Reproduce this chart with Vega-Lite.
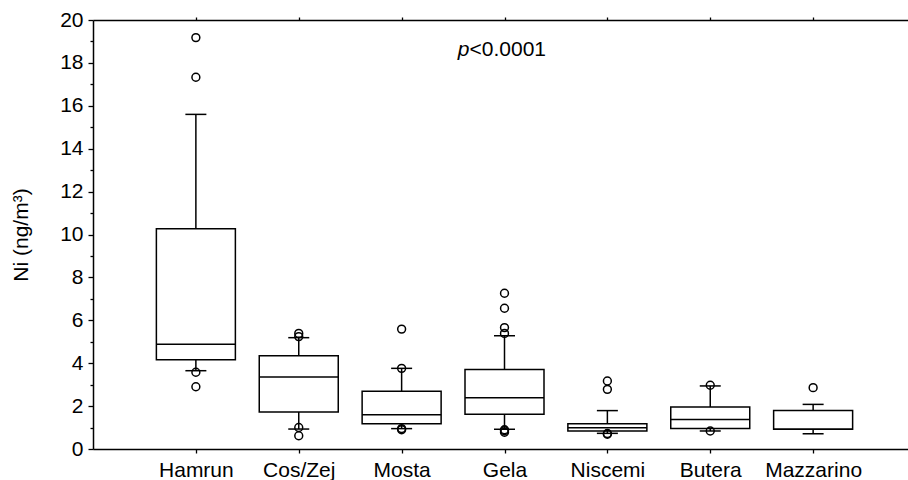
{
  "$schema": "https://vega.github.io/schema/vega-lite/v6.json",
  "autosize": "none",
  "width": 823,
  "height": 429,
  "padding": {"left": 93, "top": 20, "right": 0, "bottom": 31},
  "background": "white",
  "config": {
    "view": {"stroke": null},
    "font": "Liberation Sans",
    "axis": {"labelFont": "Liberation Sans", "titleFont": "Liberation Sans", "labelColor": "black", "titleColor": "black", "domainColor": "black", "tickColor": "black", "grid": false, "labelFontSize": 21, "titleFontSize": 21, "titleFontWeight": "normal", "domainWidth": 1.5, "tickWidth": 1.3}
  },
  "datasets": {
    "stats": [
      {"site": "Hamrun", "lower": 3.65, "q1": 4.16, "median": 4.88, "q3": 10.27, "upper": 15.6},
      {"site": "Cos/Zej", "lower": 0.93, "q1": 1.72, "median": 3.36, "q3": 4.35, "upper": 5.19},
      {"site": "Mosta", "lower": 0.95, "q1": 1.18, "median": 1.6, "q3": 2.69, "upper": 3.76},
      {"site": "Gela", "lower": 0.92, "q1": 1.62, "median": 2.39, "q3": 3.71, "upper": 5.28},
      {"site": "Niscemi", "lower": 0.73, "q1": 0.84, "median": 0.99, "q3": 1.18, "upper": 1.79},
      {"site": "Butera", "lower": 0.84, "q1": 0.95, "median": 1.38, "q3": 1.96, "upper": 2.94},
      {"site": "Mazzarino", "lower": 0.71, "q1": 0.92, "median": 0.92, "q3": 1.79, "upper": 2.08}
    ],
    "outliers": [
      {"site": "Hamrun", "value": 19.18},
      {"site": "Hamrun", "value": 17.33},
      {"site": "Hamrun", "value": 3.58},
      {"site": "Hamrun", "value": 2.9},
      {"site": "Cos/Zej", "value": 5.39},
      {"site": "Cos/Zej", "value": 5.24},
      {"site": "Cos/Zej", "value": 1.0},
      {"site": "Cos/Zej", "value": 0.62},
      {"site": "Mosta", "value": 5.59},
      {"site": "Mosta", "value": 3.76},
      {"site": "Mosta", "value": 0.95},
      {"site": "Mosta", "value": 0.9},
      {"site": "Gela", "value": 7.26},
      {"site": "Gela", "value": 6.56},
      {"site": "Gela", "value": 5.66},
      {"site": "Gela", "value": 5.39},
      {"site": "Gela", "value": 0.9},
      {"site": "Gela", "value": 0.85},
      {"site": "Gela", "value": 0.78},
      {"site": "Niscemi", "value": 3.17},
      {"site": "Niscemi", "value": 2.78},
      {"site": "Niscemi", "value": 0.72},
      {"site": "Niscemi", "value": 0.69},
      {"site": "Butera", "value": 2.97},
      {"site": "Butera", "value": 0.84},
      {"site": "Mazzarino", "value": 2.86}
    ],
    "annot": [{"site": "Gela", "y": 18.6, "p": "p", "rest": "<0.0001"}]
  },
  "resolve": {"axis": {"x": "independent", "y": "independent"}},
  "layer": [
    {
      "data": {"name": "stats"},
      "mark": {"type": "rule", "color": "black", "strokeWidth": 1.5},
      "encoding": {
        "x": {"field": "site", "type": "nominal", "sort": null, "scale": {"type": "point", "padding": 1.015}, "axis": {"orient": "bottom", "title": null, "labelAngle": 0, "tickSize": 4, "labelPadding": 6}},
        "y": {"field": "lower", "type": "quantitative", "scale": {"domain": [0, 20], "nice": false}, "axis": {"orient": "left", "title": "Ni (ng/m³)", "values": [0, 2, 4, 6, 8, 10, 12, 14, 16, 18, 20], "tickSize": 5, "labelPadding": 5, "titlePadding": 28}},
        "y2": {"field": "upper"}
      }
    },
    {
      "data": {"name": "stats"},
      "mark": {"type": "bar", "fill": "white", "stroke": "black", "strokeWidth": 1.5, "size": 79},
      "encoding": {
        "x": {"field": "site", "type": "nominal", "sort": null, "axis": {"orient": "top", "title": null, "labels": false, "tickSize": 3, "domainWidth": 1.5}},
        "y": {"field": "q1", "type": "quantitative", "axis": {"orient": "left", "title": null, "labels": false, "domain": false, "values": [1, 3, 5, 7, 9, 11, 13, 15, 17, 19], "tickSize": 3}},
        "y2": {"field": "q3"}
      }
    },
    {
      "data": {"name": "stats"},
      "mark": {"type": "tick", "color": "black", "thickness": 1.5, "size": 79, "opacity": 1},
      "encoding": {
        "x": {"field": "site", "type": "nominal", "sort": null, "axis": null},
        "y": {"field": "median", "type": "quantitative", "axis": null}
      }
    },
    {
      "data": {"name": "stats"},
      "mark": {"type": "tick", "color": "black", "thickness": 1.5, "size": 21, "opacity": 1},
      "encoding": {
        "x": {"field": "site", "type": "nominal", "sort": null, "axis": null},
        "y": {"field": "upper", "type": "quantitative", "axis": null}
      }
    },
    {
      "data": {"name": "stats"},
      "mark": {"type": "tick", "color": "black", "thickness": 1.5, "size": 21, "opacity": 1},
      "encoding": {
        "x": {"field": "site", "type": "nominal", "sort": null, "axis": null},
        "y": {"field": "lower", "type": "quantitative", "axis": null}
      }
    },
    {
      "data": {"name": "outliers"},
      "mark": {"type": "point", "filled": false, "stroke": "black", "strokeWidth": 1.5, "size": 62, "opacity": 1},
      "encoding": {
        "x": {"field": "site", "type": "nominal", "sort": null, "axis": null},
        "y": {"field": "value", "type": "quantitative", "axis": null}
      }
    },
    {
      "data": {"name": "annot"},
      "mark": {"type": "text", "align": "right", "baseline": "middle", "fontSize": 21, "fontStyle": "italic", "font": "Liberation Sans", "dx": -35, "color": "black"},
      "encoding": {
        "x": {"field": "site", "type": "nominal", "sort": null, "axis": null},
        "y": {"field": "y", "type": "quantitative", "axis": null},
        "text": {"field": "p"}
      }
    },
    {
      "data": {"name": "annot"},
      "mark": {"type": "text", "align": "left", "baseline": "middle", "fontSize": 21, "font": "Liberation Sans", "dx": -35, "color": "black"},
      "encoding": {
        "x": {"field": "site", "type": "nominal", "sort": null, "axis": null},
        "y": {"field": "y", "type": "quantitative", "axis": null},
        "text": {"field": "rest"}
      }
    }
  ]
}
